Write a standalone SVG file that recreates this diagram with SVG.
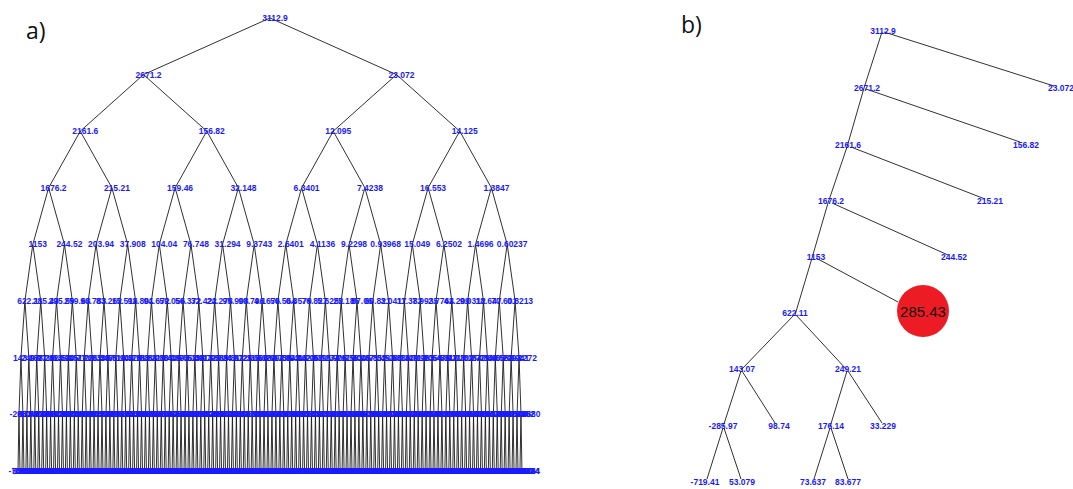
<svg xmlns="http://www.w3.org/2000/svg" width="1073" height="489" viewBox="0 0 1073 489">
<style>
.lab{font-family:"Liberation Sans",Arial,sans-serif;font-weight:bold;font-size:8.5px;fill:#1a1aff;text-anchor:middle}
.con{fill:none;stroke:#1a1a1a;stroke-width:0.9}
.pl{font-family:"Open Sans","Liberation Sans",sans-serif;font-size:23px;fill:#111}
.big{font-family:"Liberation Sans",Arial,sans-serif;font-weight:normal;font-size:15px;fill:#111;text-anchor:middle}
</style>
<rect width="1073" height="489" fill="#fff"/>
<text class="pl" x="26" y="39">a)</text>
<text class="pl" x="681" y="33">b)</text>
<g id="panel-a">
<g id="a-connectors" class="con">
<path d="M143.51 74.6L270 18L396.49 74.6"/>
<path d="M80.26 131.2L143.51 74.6L206.76 131.2M333.24 131.2L396.49 74.6L459.74 131.2"/>
<path d="M48.64 187.8L80.26 131.2L111.88 187.8M175.14 187.8L206.76 131.2L238.38 187.8M301.62 187.8L333.24 131.2L364.86 187.8M428.12 187.8L459.74 131.2L491.36 187.8"/>
<path d="M32.824 244.4l15.812-56.6 15.812 56.6m31.624 0l15.812-56.6 15.812 56.6m31.624 0l15.812-56.6 15.812 56.6m31.624 0l15.812-56.6 15.812 56.6m31.624 0l15.812-56.6 15.812 56.6m31.624 0l15.812-56.6 15.812 56.6m31.624 0l15.812-56.6 15.812 56.6m31.624 0l15.812-56.6 15.812 56.6"/>
<path d="M24.918 301l7.906-56.6 7.906 56.6m15.812 0l7.906-56.6 7.906 56.6m15.812 0l7.906-56.6 7.906 56.6m15.812 0l7.906-56.6 7.906 56.6m15.812 0l7.906-56.6 7.906 56.6m15.812 0l7.906-56.6 7.906 56.6m15.812 0l7.906-56.6 7.906 56.6m15.812 0l7.906-56.6 7.906 56.6m15.812 0
l7.906-56.6 7.906 56.6m15.812 0l7.906-56.6 7.906 56.6m15.812 0l7.906-56.6 7.906 56.6m15.812 0l7.906-56.6 7.906 56.6m15.812 0l7.906-56.6 7.906 56.6m15.812 0l7.906-56.6 7.906 56.6m15.812 0l7.906-56.6 7.906 56.6m15.812 0l7.906-56.6 7.906 56.6"/>
<path d="M20.965 357.6l3.953-56.6 3.953 56.6m7.906 0l3.953-56.6 3.953 56.6m7.906 0l3.953-56.6 3.953 56.6m7.906 0l3.953-56.6 3.953 56.6m7.906 0l3.953-56.6 3.953 56.6m7.906 0l3.953-56.6 3.953 56.6m7.906 0l3.953-56.6 3.953 56.6m7.906 0l3.953-56.6 3.953 56.6m7.906 0
l3.953-56.6 3.953 56.6m7.906 0l3.953-56.6 3.953 56.6m7.906 0l3.953-56.6 3.953 56.6m7.906 0l3.953-56.6 3.953 56.6m7.906 0l3.953-56.6 3.953 56.6m7.906 0l3.953-56.6 3.953 56.6m7.906 0l3.953-56.6 3.953 56.6m7.906 0l3.953-56.6 3.953 56.6m7.906 0
l3.953-56.6 3.953 56.6m7.906 0l3.953-56.6 3.953 56.6m7.906 0l3.953-56.6 3.953 56.6m7.906 0l3.953-56.6 3.953 56.6m7.906 0l3.953-56.6 3.953 56.6m7.906 0l3.953-56.6 3.953 56.6m7.906 0l3.953-56.6 3.953 56.6m7.906 0l3.953-56.6 3.953 56.6m7.906 0
l3.953-56.6 3.953 56.6m7.906 0l3.953-56.6 3.953 56.6m7.906 0l3.953-56.6 3.953 56.6m7.906 0l3.953-56.6 3.953 56.6m7.906 0l3.953-56.6 3.953 56.6m7.906 0l3.953-56.6 3.953 56.6m7.906 0l3.953-56.6 3.953 56.6m7.906 0l3.953-56.6 3.953 56.6"/>
<path d="M18.988 414.2l1.9765-56.6 1.9765 56.6m3.953 0l1.9765-56.6 1.9765 56.6m3.953 0l1.9765-56.6 1.9765 56.6m3.953 0l1.9765-56.6 1.9765 56.6m3.953 0l1.9765-56.6 1.9765 56.6m3.953 0l1.9765-56.6 1.9765 56.6m3.953 0l1.9765-56.6 1.9765 56.6m3.953 0l1.9765-56.6 1.9765 56.6m3.953 0
l1.9765-56.6 1.9765 56.6m3.953 0l1.9765-56.6 1.9765 56.6m3.953 0l1.9765-56.6 1.9765 56.6m3.953 0l1.9765-56.6 1.9765 56.6m3.953 0l1.9765-56.6 1.9765 56.6m3.953 0l1.9765-56.6 1.9765 56.6m3.953 0l1.9765-56.6 1.9765 56.6m3.953 0l1.9765-56.6 1.9765 56.6m3.953 0
l1.9765-56.6 1.9765 56.6m3.953 0l1.9765-56.6 1.9765 56.6m3.953 0l1.9765-56.6 1.9765 56.6m3.953 0l1.9765-56.6 1.9765 56.6m3.953 0l1.9765-56.6 1.9765 56.6m3.953 0l1.9765-56.6 1.9765 56.6m3.953 0l1.9765-56.6 1.9765 56.6m3.953 0l1.9765-56.6 1.9765 56.6m3.953 0
l1.9765-56.6 1.9765 56.6m3.953 0l1.9765-56.6 1.9765 56.6m3.953 0l1.9765-56.6 1.9765 56.6m3.953 0l1.9765-56.6 1.9765 56.6m3.953 0l1.9765-56.6 1.9765 56.6m3.953 0l1.9765-56.6 1.9765 56.6m3.953 0l1.9765-56.6 1.9765 56.6m3.953 0l1.9765-56.6 1.9765 56.6m3.953 0
l1.9765-56.6 1.9765 56.6m3.953 0l1.9765-56.6 1.9765 56.6m3.953 0l1.9765-56.6 1.9765 56.6m3.953 0l1.9765-56.6 1.9765 56.6m3.953 0l1.9765-56.6 1.9765 56.6m3.953 0l1.9765-56.6 1.9765 56.6m3.953 0l1.9765-56.6 1.9765 56.6m3.953 0l1.9765-56.6 1.9765 56.6m3.953 0
l1.9765-56.6 1.9765 56.6m3.953 0l1.9765-56.6 1.9765 56.6m3.953 0l1.9765-56.6 1.9765 56.6m3.953 0l1.9765-56.6 1.9765 56.6m3.953 0l1.9765-56.6 1.9765 56.6m3.953 0l1.9765-56.6 1.9765 56.6m3.953 0l1.9765-56.6 1.9765 56.6m3.953 0l1.9765-56.6 1.9765 56.6m3.953 0
l1.9765-56.6 1.9765 56.6m3.953 0l1.9765-56.6 1.9765 56.6m3.953 0l1.9765-56.6 1.9765 56.6m3.953 0l1.9765-56.6 1.9765 56.6m3.953 0l1.9765-56.6 1.9765 56.6m3.953 0l1.9765-56.6 1.9765 56.6m3.953 0l1.9765-56.6 1.9765 56.6m3.953 0l1.9765-56.6 1.9765 56.6m3.953 0
l1.9765-56.6 1.9765 56.6m3.953 0l1.9765-56.6 1.9765 56.6m3.953 0l1.9765-56.6 1.9765 56.6m3.953 0l1.9765-56.6 1.9765 56.6m3.953 0l1.9765-56.6 1.9765 56.6m3.953 0l1.9765-56.6 1.9765 56.6m3.953 0l1.9765-56.6 1.9765 56.6m3.953 0l1.9765-56.6 1.9765 56.6"/>
<path d="M18 470.8l.988-56.6.988 56.6m1.9765 0l.988-56.6.988 56.6m1.9765 0l.988-56.6.988 56.6m1.9765 0l.988-56.6.988 56.6m1.9765 0l.988-56.6.988 56.6m1.9765 0l.988-56.6.988 56.6m1.9765 0l.988-56.6.988 56.6m1.9765 0l.988-56.6.988 56.6m1.9765 0
l.988-56.6.988 56.6m1.9765 0l.988-56.6.988 56.6m1.9765 0l.988-56.6.988 56.6m1.9765 0l.988-56.6.988 56.6m1.9765 0l.988-56.6.988 56.6m1.9765 0l.988-56.6.988 56.6m1.9765 0l.988-56.6.988 56.6m1.9765 0l.988-56.6.988 56.6m1.9765 0
l.988-56.6.988 56.6m1.9765 0l.988-56.6.988 56.6m1.9765 0l.988-56.6.988 56.6m1.9765 0l.988-56.6.988 56.6m1.9765 0l.988-56.6.988 56.6m1.9765 0l.988-56.6.988 56.6m1.9765 0l.988-56.6.988 56.6m1.9765 0l.988-56.6.988 56.6m1.9765 0
l.988-56.6.988 56.6m1.9765 0l.988-56.6.988 56.6m1.9765 0l.988-56.6.988 56.6m1.9765 0l.988-56.6.988 56.6m1.9765 0l.988-56.6.988 56.6m1.9765 0l.988-56.6.988 56.6m1.9765 0l.988-56.6.988 56.6m1.9765 0l.988-56.6.988 56.6m1.9765 0
l.988-56.6.988 56.6m1.9765 0l.988-56.6.988 56.6m1.9765 0l.988-56.6.988 56.6m1.9765 0l.988-56.6.988 56.6m1.9765 0l.988-56.6.988 56.6m1.9765 0l.988-56.6.988 56.6m1.9765 0l.988-56.6.988 56.6m1.9765 0l.988-56.6.988 56.6m1.9765 0
l.988-56.6.988 56.6m1.9765 0l.988-56.6.988 56.6m1.9765 0l.988-56.6.988 56.6m1.9765 0l.988-56.6.988 56.6m1.9765 0l.988-56.6.988 56.6m1.9765 0l.988-56.6.988 56.6m1.9765 0l.988-56.6.988 56.6m1.9765 0l.988-56.6.988 56.6m1.9765 0
l.988-56.6.988 56.6m1.9765 0l.988-56.6.988 56.6m1.9765 0l.988-56.6.988 56.6m1.9765 0l.988-56.6.988 56.6m1.9765 0l.988-56.6.988 56.6m1.9765 0l.988-56.6.988 56.6m1.9765 0l.988-56.6.988 56.6m1.9765 0l.988-56.6.988 56.6m1.9765 0
l.988-56.6.988 56.6m1.9765 0l.988-56.6.988 56.6m1.9765 0l.988-56.6.988 56.6m1.9765 0l.988-56.6.988 56.6m1.9765 0l.988-56.6.988 56.6m1.9765 0l.988-56.6.988 56.6m1.9765 0l.988-56.6.988 56.6m1.9765 0l.988-56.6.988 56.6m1.9765 0
l.988-56.6.988 56.6m1.9765 0l.988-56.6.988 56.6m1.9765 0l.988-56.6.988 56.6m1.9765 0l.988-56.6.988 56.6m1.9765 0l.988-56.6.988 56.6m1.9765 0l.988-56.6.988 56.6m1.9765 0l.988-56.6.988 56.6m1.9765 0l.988-56.6.988 56.6m1.9765 0
l.988-56.6.988 56.6m1.9765 0l.988-56.6.988 56.6m1.9765 0l.988-56.6.988 56.6m1.9765 0l.988-56.6.988 56.6m1.9765 0l.988-56.6.988 56.6m1.9765 0l.988-56.6.988 56.6m1.9765 0l.988-56.6.988 56.6m1.9765 0l.988-56.6.988 56.6m1.9765 0
l.988-56.6.988 56.6m1.9765 0l.988-56.6.988 56.6m1.9765 0l.988-56.6.988 56.6m1.9765 0l.988-56.6.988 56.6m1.9765 0l.988-56.6.988 56.6m1.9765 0l.988-56.6.988 56.6m1.9765 0l.988-56.6.988 56.6m1.9765 0l.988-56.6.988 56.6m1.9765 0
l.988-56.6.988 56.6m1.9765 0l.988-56.6.988 56.6m1.9765 0l.988-56.6.988 56.6m1.9765 0l.988-56.6.988 56.6m1.9765 0l.988-56.6.988 56.6m1.9765 0l.988-56.6.988 56.6m1.9765 0l.988-56.6.988 56.6m1.9765 0l.988-56.6.988 56.6m1.9765 0
l.988-56.6.988 56.6m1.9765 0l.988-56.6.988 56.6m1.9765 0l.988-56.6.988 56.6m1.9765 0l.988-56.6.988 56.6m1.9765 0l.988-56.6.988 56.6m1.9765 0l.988-56.6.988 56.6m1.9765 0l.988-56.6.988 56.6m1.9765 0l.988-56.6.988 56.6m1.9765 0
l.988-56.6.988 56.6m1.9765 0l.988-56.6.988 56.6m1.9765 0l.988-56.6.988 56.6m1.9765 0l.988-56.6.988 56.6m1.9765 0l.988-56.6.988 56.6m1.9765 0l.988-56.6.988 56.6m1.9765 0l.988-56.6.988 56.6m1.9765 0l.988-56.6.988 56.6m1.9765 0
l.988-56.6.988 56.6m1.9765 0l.988-56.6.988 56.6m1.9765 0l.988-56.6.988 56.6m1.9765 0l.988-56.6.988 56.6m1.9765 0l.988-56.6.988 56.6m1.9765 0l.988-56.6.988 56.6m1.9765 0l.988-56.6.988 56.6m1.9765 0l.988-56.6.988 56.6m1.9765 0
l.988-56.6.988 56.6m1.9765 0l.988-56.6.988 56.6m1.9765 0l.988-56.6.988 56.6m1.9765 0l.988-56.6.988 56.6m1.9765 0l.988-56.6.988 56.6m1.9765 0l.988-56.6.988 56.6m1.9765 0l.988-56.6.988 56.6m1.9765 0l.988-56.6.988 56.6"/>
</g>
<g id="a-nodes" class="lab">
<g id="a0_0"><text x="275" y="21">3112.9</text></g>
<g id="a1_0"><text x="148.5" y="77.6">2671.2</text></g>
<g id="a1_1"><text x="401.5" y="77.6">23.072</text></g>
<g id="a2_0"><text x="85.3" y="134.2">2161.6</text></g>
<g id="a2_1"><text x="211.8" y="134.2">156.82</text></g>
<g id="a2_2"><text x="338.2" y="134.2">12.095</text></g>
<g id="a2_3"><text x="464.7" y="134.2">14.125</text></g>
<g id="a3_0"><text x="53.6" y="190.8">1676.2</text></g>
<g id="a3_1"><text x="116.9" y="190.8">215.21</text></g>
<g id="a3_2"><text x="180.1" y="190.8">159.46</text></g>
<g id="a3_3"><text x="243.4" y="190.8">32.148</text></g>
<g id="a3_4"><text x="306.6" y="190.8">6.3401</text></g>
<g id="a3_5"><text x="369.9" y="190.8">7.4238</text></g>
<g id="a3_6"><text x="433.1" y="190.8">16.553</text></g>
<g id="a3_7"><text x="496.4" y="190.8">1.3847</text></g>
<g id="a4_0"><text x="37.8" y="247.4">1153</text></g>
<g id="a4_1"><text x="69.4" y="247.4">244.52</text></g>
<g id="a4_2"><text x="101.1" y="247.4">203.94</text></g>
<g id="a4_3"><text x="132.7" y="247.4">37.908</text></g>
<g id="a4_4"><text x="164.3" y="247.4">104.04</text></g>
<g id="a4_5"><text x="195.9" y="247.4">76.748</text></g>
<g id="a4_6"><text x="227.6" y="247.4">31.294</text></g>
<g id="a4_7"><text x="259.2" y="247.4">9.3743</text></g>
<g id="a4_8"><text x="290.8" y="247.4">2.6401</text></g>
<g id="a4_9"><text x="322.4" y="247.4">4.1136</text></g>
<g id="a4_10"><text x="354.1" y="247.4">9.2298</text></g>
<g id="a4_11"><text x="385.7" y="247.4">0.93968</text></g>
<g id="a4_12"><text x="417.3" y="247.4">15.049</text></g>
<g id="a4_13"><text x="448.9" y="247.4">6.2502</text></g>
<g id="a4_14"><text x="480.6" y="247.4">1.4696</text></g>
<g id="a4_15"><text x="512.2" y="247.4">0.60237</text></g>
<g transform="translate(29.92,304)">
<g id="a5_0"><text>622.11</text></g><g id="a5_1"><text x="15.81">285.43</text></g><g id="a5_2"><text x="31.62">295.59</text></g><g id="a5_3"><text x="47.44">259.63</text></g><g id="a5_4"><text x="63.25">96.783</text></g><g id="a5_5"><text x="79.06">83.262</text></g><g id="a5_6"><text x="94.87">15.516</text></g><g id="a5_7"><text x="110.68">92.801</text></g><g id="a5_8"><text x="126.5">94.672</text></g><g id="a5_9"><text x="142.31">59.056</text></g><g id="a5_10"><text x="158.12">56.372</text></g><g id="a5_11"><text x="173.93">32.422</text></g><g id="a5_12"><text x="189.74">24.278</text></g><g id="a5_13"><text x="205.56">95.908</text></g><g id="a5_14"><text x="221.37">90.796</text></g><g id="a5_15"><text x="237.18">4.1676</text></g>
</g>
<g transform="translate(282.91,304)">
<g id="a5_16"><text>50.564</text></g><g id="a5_17"><text x="15.81">0.3579</text></g><g id="a5_18"><text x="31.62">76.827</text></g><g id="a5_19"><text x="47.44">5.6252</text></g><g id="a5_20"><text x="63.25">25.185</text></g><g id="a5_21"><text x="79.06">87.06</text></g><g id="a5_22"><text x="94.87">60.821</text></g><g id="a5_23"><text x="110.68">3.0417</text></g><g id="a5_24"><text x="126.5">11.382</text></g><g id="a5_25"><text x="142.31">7.9935</text></g><g id="a5_26"><text x="158.12">2.7764</text></g><g id="a5_27"><text x="173.93">41.209</text></g><g id="a5_28"><text x="189.74">9.0312</text></g><g id="a5_29"><text x="205.56">18.647</text></g><g id="a5_30"><text x="221.37">70.601</text></g><g id="a5_31"><text x="237.18">0.8213</text></g>
</g>
<g transform="translate(25.97,360.6)">
<g id="a6_0"><text>143.07</text></g><g id="a6_1"><text x="7.91">249.21</text></g><g id="a6_2"><text x="15.81">188.36</text></g><g id="a6_3"><text x="23.72">97.114</text></g><g id="a6_4"><text x="31.62">202.58</text></g><g id="a6_5"><text x="39.53">63.945</text></g><g id="a6_6"><text x="47.44">120.77</text></g><g id="a6_7"><text x="55.34">151.03</text></g><g id="a6_8"><text x="63.25">71.262</text></g><g id="a6_9"><text x="71.15">25.338</text></g><g id="a6_10"><text x="79.06">8.4471</text></g><g id="a6_11"><text x="86.97">39.516</text></g><g id="a6_12"><text x="94.87">66.904</text></g><g id="a6_13"><text x="102.78">12.375</text></g><g id="a6_14"><text x="110.68">45.182</text></g><g id="a6_15"><text x="118.59">101.66</text></g>
</g>
<g transform="translate(152.46,360.6)">
<g id="a6_16"><text>58.219</text></g><g id="a6_17"><text x="7.91">33.807</text></g><g id="a6_18"><text x="15.81">27.445</text></g><g id="a6_19"><text x="23.72">84.093</text></g><g id="a6_20"><text x="31.62">19.652</text></g><g id="a6_21"><text x="39.53">77.138</text></g><g id="a6_22"><text x="47.44">6.0913</text></g><g id="a6_23"><text x="55.34">48.725</text></g><g id="a6_24"><text x="63.25">13.569</text></g><g id="a6_25"><text x="71.15">92.247</text></g><g id="a6_26"><text x="79.06">35.811</text></g><g id="a6_27"><text x="86.97">4.9726</text></g><g id="a6_28"><text x="94.87">62.318</text></g><g id="a6_29"><text x="102.78">21.504</text></g><g id="a6_30"><text x="110.68">3.6184</text></g><g id="a6_31"><text x="118.59">55.092</text></g>
</g>
<g transform="translate(278.96,360.6)">
<g id="a6_32"><text>29.736</text></g><g id="a6_33"><text x="7.91">17.843</text></g><g id="a6_34"><text x="15.81">80.415</text></g><g id="a6_35"><text x="23.72">9.1628</text></g><g id="a6_36"><text x="31.62">44.057</text></g><g id="a6_37"><text x="39.53">2.8391</text></g><g id="a6_38"><text x="47.44">68.274</text></g><g id="a6_39"><text x="55.34">15.906</text></g><g id="a6_40"><text x="63.25">37.119</text></g><g id="a6_41"><text x="71.15">26.583</text></g><g id="a6_42"><text x="79.06">7.3045</text></g><g id="a6_43"><text x="86.97">53.671</text></g><g id="a6_44"><text x="94.87">10.852</text></g><g id="a6_45"><text x="102.78">71.493</text></g><g id="a6_46"><text x="110.68">31.207</text></g><g id="a6_47"><text x="118.59">5.5386</text></g>
</g>
<g transform="translate(405.45,360.6)">
<g id="a6_48"><text>86.329</text></g><g id="a6_49"><text x="7.91">14.718</text></g><g id="a6_50"><text x="15.81">40.963</text></g><g id="a6_51"><text x="23.72">1.9054</text></g><g id="a6_52"><text x="31.62">23.476</text></g><g id="a6_53"><text x="39.53">64.815</text></g><g id="a6_54"><text x="47.44">8.9217</text></g><g id="a6_55"><text x="55.34">47.302</text></g><g id="a6_56"><text x="63.25">18.134</text></g><g id="a6_57"><text x="71.15">3.2779</text></g><g id="a6_58"><text x="79.06">57.846</text></g><g id="a6_59"><text x="86.97">11.605</text></g><g id="a6_60"><text x="94.87">34.558</text></g><g id="a6_61"><text x="102.78">6.7093</text></g><g id="a6_62"><text x="110.68">22.941</text></g><g id="a6_63"><text x="118.59">1.2272</text></g>
</g>
<g transform="translate(23.99,417.2)">
<g id="a7_0"><text>-285.97</text></g><g id="a7_1"><text x="3.95">98.74</text></g><g id="a7_2"><text x="7.91">176.14</text></g><g id="a7_3"><text x="11.86">33.229</text></g><g id="a7_4"><text x="15.81">142.85</text></g><g id="a7_5"><text x="19.77">-40.311</text></g><g id="a7_6"><text x="23.72">63.507</text></g><g id="a7_7"><text x="27.67">27.918</text></g><g id="a7_8"><text x="31.62">115.36</text></g><g id="a7_9"><text x="35.58">-87.042</text></g><g id="a7_10"><text x="39.53">54.783</text></g><g id="a7_11"><text x="43.48">9.6651</text></g><g id="a7_12"><text x="47.44">183.29</text></g><g id="a7_13"><text x="51.39">21.406</text></g><g id="a7_14"><text x="55.34">-12.574</text></g><g id="a7_15"><text x="59.3">70.138</text></g>
</g>
<g transform="translate(87.24,417.2)">
<g id="a7_16"><text>36.952</text></g><g id="a7_17"><text x="3.95">88.617</text></g><g id="a7_18"><text x="7.91">-61.283</text></g><g id="a7_19"><text x="11.86">14.309</text></g><g id="a7_20"><text x="15.81">102.46</text></g><g id="a7_21"><text x="19.77">5.8827</text></g><g id="a7_22"><text x="23.72">47.715</text></g><g id="a7_23"><text x="27.67">-23.948</text></g><g id="a7_24"><text x="31.62">131.07</text></g><g id="a7_25"><text x="35.58">19.824</text></g><g id="a7_26"><text x="39.53">76.593</text></g><g id="a7_27"><text x="43.48">-7.4162</text></g><g id="a7_28"><text x="47.44">58.301</text></g><g id="a7_29"><text x="51.39">92.157</text></g><g id="a7_30"><text x="55.34">3.4495</text></g><g id="a7_31"><text x="59.3">44.866</text></g>
</g>
<g transform="translate(150.48,417.2)">
<g id="a7_32"><text>-98.205</text></g><g id="a7_33"><text x="3.95">25.731</text></g><g id="a7_34"><text x="7.91">67.419</text></g><g id="a7_35"><text x="11.86">11.078</text></g><g id="a7_36"><text x="15.81">39.552</text></g><g id="a7_37"><text x="19.77">-31.664</text></g><g id="a7_38"><text x="23.72">84.236</text></g><g id="a7_39"><text x="27.67">16.893</text></g><g id="a7_40"><text x="31.62">52.748</text></g><g id="a7_41"><text x="35.58">7.1305</text></g><g id="a7_42"><text x="39.53">-45.829</text></g><g id="a7_43"><text x="43.48">29.467</text></g><g id="a7_44"><text x="47.44">110.93</text></g><g id="a7_45"><text x="51.39">2.6584</text></g><g id="a7_46"><text x="55.34">61.372</text></g><g id="a7_47"><text x="59.3">-18.251</text></g>
</g>
<g transform="translate(213.73,417.2)">
<g id="a7_48"><text>73.804</text></g><g id="a7_49"><text x="3.95">13.527</text></g><g id="a7_50"><text x="7.91">28.169</text></g><g id="a7_51"><text x="11.86">-55.736</text></g><g id="a7_52"><text x="15.81">95.441</text></g><g id="a7_53"><text x="19.77">6.9038</text></g><g id="a7_54"><text x="23.72">41.285</text></g><g id="a7_55"><text x="27.67">20.617</text></g><g id="a7_56"><text x="31.62">-9.3874</text></g><g id="a7_57"><text x="35.58">66.052</text></g><g id="a7_58"><text x="39.53">34.719</text></g><g id="a7_59"><text x="43.48">1.8826</text></g><g id="a7_60"><text x="47.44">57.493</text></g><g id="a7_61"><text x="51.39">-26.307</text></g><g id="a7_62"><text x="55.34">80.164</text></g><g id="a7_63"><text x="59.3">12.945</text></g>
</g>
<g transform="translate(276.98,417.2)">
<g id="a7_64"><text>24.381</text></g><g id="a7_65"><text x="3.95">-70.529</text></g><g id="a7_66"><text x="7.91">49.806</text></g><g id="a7_67"><text x="11.86">8.2147</text></g><g id="a7_68"><text x="15.81">37.663</text></g><g id="a7_69"><text x="19.77">17.092</text></g><g id="a7_70"><text x="23.72">-3.7518</text></g><g id="a7_71"><text x="27.67">90.327</text></g><g id="a7_72"><text x="31.62">43.274</text></g><g id="a7_73"><text x="35.58">10.681</text></g><g id="a7_74"><text x="39.53">-37.946</text></g><g id="a7_75"><text x="43.48">62.815</text></g><g id="a7_76"><text x="47.44">4.5372</text></g><g id="a7_77"><text x="51.39">31.058</text></g><g id="a7_78"><text x="55.34">75.921</text></g><g id="a7_79"><text x="59.3">-14.683</text></g>
</g>
<g transform="translate(340.23,417.2)">
<g id="a7_80"><text>53.416</text></g><g id="a7_81"><text x="3.95">22.739</text></g><g id="a7_82"><text x="7.91">-81.352</text></g><g id="a7_83"><text x="11.86">15.264</text></g><g id="a7_84"><text x="15.81">68.907</text></g><g id="a7_85"><text x="19.77">2.1463</text></g><g id="a7_86"><text x="23.72">46.538</text></g><g id="a7_87"><text x="27.67">-20.875</text></g><g id="a7_88"><text x="31.62">87.193</text></g><g id="a7_89"><text x="35.58">9.8042</text></g><g id="a7_90"><text x="39.53">35.627</text></g><g id="a7_91"><text x="43.48">26.351</text></g><g id="a7_92"><text x="47.44">-6.0297</text></g><g id="a7_93"><text x="51.39">59.784</text></g><g id="a7_94"><text x="55.34">18.436</text></g><g id="a7_95"><text x="59.3">41.902</text></g>
</g>
<g transform="translate(403.48,417.2)">
<g id="a7_96"><text>-49.617</text></g><g id="a7_97"><text x="3.95">71.045</text></g><g id="a7_98"><text x="7.91">5.3186</text></g><g id="a7_99"><text x="11.86">30.592</text></g><g id="a7_100"><text x="15.81">97.268</text></g><g id="a7_101"><text x="19.77">-15.934</text></g><g id="a7_102"><text x="23.72">12.803</text></g><g id="a7_103"><text x="27.67">64.179</text></g><g id="a7_104"><text x="31.62">23.955</text></g><g id="a7_105"><text x="35.58">-2.4671</text></g><g id="a7_106"><text x="39.53">50.317</text></g><g id="a7_107"><text x="43.48">38.846</text></g><g id="a7_108"><text x="47.44">7.9503</text></g><g id="a7_109"><text x="51.39">-33.208</text></g><g id="a7_110"><text x="55.34">82.571</text></g><g id="a7_111"><text x="59.3">16.124</text></g>
</g>
<g transform="translate(466.72,417.2)">
<g id="a7_112"><text>45.739</text></g><g id="a7_113"><text x="3.95">1.0635</text></g><g id="a7_114"><text x="7.91">-58.492</text></g><g id="a7_115"><text x="11.86">27.386</text></g><g id="a7_116"><text x="15.81">69.813</text></g><g id="a7_117"><text x="19.77">11.547</text></g><g id="a7_118"><text x="23.72">-8.6219</text></g><g id="a7_119"><text x="27.67">39.078</text></g><g id="a7_120"><text x="31.62">55.264</text></g><g id="a7_121"><text x="35.58">4.3817</text></g><g id="a7_122"><text x="39.53">78.905</text></g><g id="a7_123"><text x="43.48">-24.163</text></g><g id="a7_124"><text x="47.44">19.548</text></g><g id="a7_125"><text x="51.39">32.796</text></g><g id="a7_126"><text x="55.34">6.4452</text></g><g id="a7_127"><text x="59.3">-2.0880</text></g>
</g>
<g transform="translate(23,473.8)">
<g id="a8_0"><text>-719.41</text></g><g id="a8_1"><text x="1.98">53.079</text></g><g id="a8_2"><text x="3.95">130.62</text></g><g id="a8_3"><text x="5.93">66.815</text></g><g id="a8_4"><text x="7.91">73.637</text></g><g id="a8_5"><text x="9.88">83.677</text></g><g id="a8_6"><text x="11.86">21.948</text></g><g id="a8_7"><text x="13.84">44.503</text></g><g id="a8_8"><text x="15.81">97.216</text></g><g id="a8_9"><text x="17.79">188.07</text></g><g id="a8_10"><text x="19.77">-62.734</text></g><g id="a8_11"><text x="21.74">18.391</text></g><g id="a8_12"><text x="23.72">35.872</text></g><g id="a8_13"><text x="25.69">73.108</text></g><g id="a8_14"><text x="27.67">104.55</text></g><g id="a8_15"><text x="29.65">-9.2614</text></g>
</g>
<g transform="translate(54.62,473.8)">
<g id="a8_16"><text>48.327</text></g><g id="a8_17"><text x="1.98">61.904</text></g><g id="a8_18"><text x="3.95">7.5182</text></g><g id="a8_19"><text x="5.93">22.663</text></g><g id="a8_20"><text x="7.91">150.81</text></g><g id="a8_21"><text x="9.88">39.427</text></g><g id="a8_22"><text x="11.86">-28.056</text></g><g id="a8_23"><text x="13.84">85.193</text></g><g id="a8_24"><text x="15.81">13.744</text></g><g id="a8_25"><text x="17.79">56.281</text></g><g id="a8_26"><text x="19.77">92.638</text></g><g id="a8_27"><text x="21.74">4.0975</text></g><g id="a8_28"><text x="23.72">27.519</text></g><g id="a8_29"><text x="25.69">-41.872</text></g><g id="a8_30"><text x="27.67">68.345</text></g><g id="a8_31"><text x="29.65">31.206</text></g>
</g>
<g transform="translate(86.25,473.8)">
<g id="a8_32"><text>116.43</text></g><g id="a8_33"><text x="1.98">9.8871</text></g><g id="a8_34"><text x="3.95">-75.214</text></g><g id="a8_35"><text x="5.93">52.609</text></g><g id="a8_36"><text x="7.91">24.137</text></g><g id="a8_37"><text x="9.88">80.752</text></g><g id="a8_38"><text x="11.86">15.486</text></g><g id="a8_39"><text x="13.84">43.918</text></g><g id="a8_40"><text x="15.81">-6.3729</text></g><g id="a8_41"><text x="17.79">99.064</text></g><g id="a8_42"><text x="19.77">36.581</text></g><g id="a8_43"><text x="21.74">12.295</text></g><g id="a8_44"><text x="23.72">71.847</text></g><g id="a8_45"><text x="25.69">28.413</text></g><g id="a8_46"><text x="27.67">-53.126</text></g><g id="a8_47"><text x="29.65">60.739</text></g>
</g>
<g transform="translate(117.87,473.8)">
<g id="a8_48"><text>19.752</text></g><g id="a8_49"><text x="1.98">87.314</text></g><g id="a8_50"><text x="3.95">3.6608</text></g><g id="a8_51"><text x="5.93">45.829</text></g><g id="a8_52"><text x="7.91">-110.27</text></g><g id="a8_53"><text x="9.88">32.471</text></g><g id="a8_54"><text x="11.86">64.093</text></g><g id="a8_55"><text x="13.84">11.836</text></g><g id="a8_56"><text x="15.81">94.527</text></g><g id="a8_57"><text x="17.79">25.168</text></g><g id="a8_58"><text x="19.77">-17.405</text></g><g id="a8_59"><text x="21.74">57.952</text></g><g id="a8_60"><text x="23.72">40.316</text></g><g id="a8_61"><text x="25.69">6.7284</text></g><g id="a8_62"><text x="27.67">78.641</text></g><g id="a8_63"><text x="29.65">21.093</text></g>
</g>
<g transform="translate(149.5,473.8)">
<g id="a8_64"><text>-36.487</text></g><g id="a8_65"><text x="1.98">102.75</text></g><g id="a8_66"><text x="3.95">29.834</text></g><g id="a8_67"><text x="5.93">8.4516</text></g><g id="a8_68"><text x="7.91">66.172</text></g><g id="a8_69"><text x="9.88">47.925</text></g><g id="a8_70"><text x="11.86">-4.8853</text></g><g id="a8_71"><text x="13.84">83.406</text></g><g id="a8_72"><text x="15.81">14.637</text></g><g id="a8_73"><text x="17.79">55.218</text></g><g id="a8_74"><text x="19.77">37.749</text></g><g id="a8_75"><text x="21.74">-92.361</text></g><g id="a8_76"><text x="23.72">23.582</text></g><g id="a8_77"><text x="25.69">70.915</text></g><g id="a8_78"><text x="27.67">10.274</text></g><g id="a8_79"><text x="29.65">49.803</text></g>
</g>
<g transform="translate(181.12,473.8)">
<g id="a8_80"><text>125.38</text></g><g id="a8_81"><text x="1.98">-21.746</text></g><g id="a8_82"><text x="3.95">58.197</text></g><g id="a8_83"><text x="5.93">33.064</text></g><g id="a8_84"><text x="7.91">5.9327</text></g><g id="a8_85"><text x="9.88">76.485</text></g><g id="a8_86"><text x="11.86">42.751</text></g><g id="a8_87"><text x="13.84">-67.128</text></g><g id="a8_88"><text x="15.81">18.926</text></g><g id="a8_89"><text x="17.79">89.573</text></g><g id="a8_90"><text x="19.77">26.308</text></g><g id="a8_91"><text x="21.74">61.442</text></g><g id="a8_92"><text x="23.72">-11.957</text></g><g id="a8_93"><text x="25.69">39.186</text></g><g id="a8_94"><text x="27.67">97.834</text></g><g id="a8_95"><text x="29.65">2.3149</text></g>
</g>
<g transform="translate(212.74,473.8)">
<g id="a8_96"><text>51.677</text></g><g id="a8_97"><text x="1.98">30.592</text></g><g id="a8_98"><text x="3.95">-45.213</text></g><g id="a8_99"><text x="5.93">84.029</text></g><g id="a8_100"><text x="7.91">16.748</text></g><g id="a8_101"><text x="9.88">63.385</text></g><g id="a8_102"><text x="11.86">8.1072</text></g><g id="a8_103"><text x="13.84">-29.664</text></g><g id="a8_104"><text x="15.81">74.518</text></g><g id="a8_105"><text x="17.79">35.903</text></g><g id="a8_106"><text x="19.77">20.471</text></g><g id="a8_107"><text x="21.74">107.26</text></g><g id="a8_108"><text x="23.72">-3.4218</text></g><g id="a8_109"><text x="25.69">46.839</text></g><g id="a8_110"><text x="27.67">59.127</text></g><g id="a8_111"><text x="29.65">13.982</text></g>
</g>
<g transform="translate(244.37,473.8)">
<g id="a8_112"><text>-81.596</text></g><g id="a8_113"><text x="1.98">27.043</text></g><g id="a8_114"><text x="3.95">68.774</text></g><g id="a8_115"><text x="5.93">4.6291</text></g><g id="a8_116"><text x="7.91">91.308</text></g><g id="a8_117"><text x="9.88">38.516</text></g><g id="a8_118"><text x="11.86">-14.375</text></g><g id="a8_119"><text x="13.84">55.862</text></g><g id="a8_120"><text x="15.81">22.194</text></g><g id="a8_121"><text x="17.79">79.627</text></g><g id="a8_122"><text x="19.77">10.953</text></g><g id="a8_123"><text x="21.74">-58.049</text></g><g id="a8_124"><text x="23.72">43.281</text></g><g id="a8_125"><text x="25.69">65.714</text></g><g id="a8_126"><text x="27.67">7.8465</text></g><g id="a8_127"><text x="29.65">31.437</text></g>
</g>
<g transform="translate(275.99,473.8)">
<g id="a8_128"><text>99.158</text></g><g id="a8_129"><text x="1.98">-24.917</text></g><g id="a8_130"><text x="3.95">17.382</text></g><g id="a8_131"><text x="5.93">52.046</text></g><g id="a8_132"><text x="7.91">71.593</text></g><g id="a8_133"><text x="9.88">1.5837</text></g><g id="a8_134"><text x="11.86">-38.762</text></g><g id="a8_135"><text x="13.84">86.214</text></g><g id="a8_136"><text x="15.81">29.409</text></g><g id="a8_137"><text x="17.79">62.851</text></g><g id="a8_138"><text x="19.77">12.627</text></g><g id="a8_139"><text x="21.74">45.093</text></g><g id="a8_140"><text x="23.72">-7.9146</text></g><g id="a8_141"><text x="25.69">80.339</text></g><g id="a8_142"><text x="27.67">34.786</text></g><g id="a8_143"><text x="29.65">19.518</text></g>
</g>
<g transform="translate(307.62,473.8)">
<g id="a8_144"><text>57.204</text></g><g id="a8_145"><text x="1.98">-103.49</text></g><g id="a8_146"><text x="3.95">25.961</text></g><g id="a8_147"><text x="5.93">68.417</text></g><g id="a8_148"><text x="7.91">9.3582</text></g><g id="a8_149"><text x="9.88">41.725</text></g><g id="a8_150"><text x="11.86">76.068</text></g><g id="a8_151"><text x="13.84">-16.584</text></g><g id="a8_152"><text x="15.81">53.913</text></g><g id="a8_153"><text x="17.79">14.276</text></g><g id="a8_154"><text x="19.77">88.645</text></g><g id="a8_155"><text x="21.74">32.107</text></g><g id="a8_156"><text x="23.72">-49.331</text></g><g id="a8_157"><text x="25.69">20.849</text></g><g id="a8_158"><text x="27.67">63.592</text></g><g id="a8_159"><text x="29.65">5.1743</text></g>
</g>
<g transform="translate(339.24,473.8)">
<g id="a8_160"><text>37.816</text></g><g id="a8_161"><text x="1.98">94.461</text></g><g id="a8_162"><text x="3.95">-27.305</text></g><g id="a8_163"><text x="5.93">11.672</text></g><g id="a8_164"><text x="7.91">60.938</text></g><g id="a8_165"><text x="9.88">44.157</text></g><g id="a8_166"><text x="11.86">2.9061</text></g><g id="a8_167"><text x="13.84">-70.284</text></g><g id="a8_168"><text x="15.81">26.753</text></g><g id="a8_169"><text x="17.79">82.519</text></g><g id="a8_170"><text x="19.77">39.374</text></g><g id="a8_171"><text x="21.74">16.025</text></g><g id="a8_172"><text x="23.72">72.863</text></g><g id="a8_173"><text x="25.69">-5.6132</text></g><g id="a8_174"><text x="27.67">48.492</text></g><g id="a8_175"><text x="29.65">90.736</text></g>
</g>
<g transform="translate(370.86,473.8)">
<g id="a8_176"><text>13.548</text></g><g id="a8_177"><text x="1.98">-42.619</text></g><g id="a8_178"><text x="3.95">67.283</text></g><g id="a8_179"><text x="5.93">30.815</text></g><g id="a8_180"><text x="7.91">6.2407</text></g><g id="a8_181"><text x="9.88">58.471</text></g><g id="a8_182"><text x="11.86">-19.092</text></g><g id="a8_183"><text x="13.84">95.648</text></g><g id="a8_184"><text x="15.81">35.209</text></g><g id="a8_185"><text x="17.79">22.936</text></g><g id="a8_186"><text x="19.77">77.154</text></g><g id="a8_187"><text x="21.74">-61.847</text></g><g id="a8_188"><text x="23.72">8.7715</text></g><g id="a8_189"><text x="25.69">50.362</text></g><g id="a8_190"><text x="27.67">28.593</text></g><g id="a8_191"><text x="29.65">84.108</text></g>
</g>
<g transform="translate(402.49,473.8)">
<g id="a8_192"><text>-33.726</text></g><g id="a8_193"><text x="1.98">18.604</text></g><g id="a8_194"><text x="3.95">62.395</text></g><g id="a8_195"><text x="5.93">45.817</text></g><g id="a8_196"><text x="7.91">-1.8294</text></g><g id="a8_197"><text x="9.88">73.062</text></g><g id="a8_198"><text x="11.86">27.748</text></g><g id="a8_199"><text x="13.84">10.389</text></g><g id="a8_200"><text x="15.81">-86.153</text></g><g id="a8_201"><text x="17.79">54.627</text></g><g id="a8_202"><text x="19.77">40.471</text></g><g id="a8_203"><text x="21.74">15.893</text></g><g id="a8_204"><text x="23.72">92.216</text></g><g id="a8_205"><text x="25.69">-12.348</text></g><g id="a8_206"><text x="27.67">66.905</text></g><g id="a8_207"><text x="29.65">3.4176</text></g>
</g>
<g transform="translate(434.11,473.8)">
<g id="a8_208"><text>47.135</text></g><g id="a8_209"><text x="1.98">24.582</text></g><g id="a8_210"><text x="3.95">-54.961</text></g><g id="a8_211"><text x="5.93">79.248</text></g><g id="a8_212"><text x="7.91">36.627</text></g><g id="a8_213"><text x="9.88">7.0953</text></g><g id="a8_214"><text x="11.86">59.814</text></g><g id="a8_215"><text x="13.84">-22.473</text></g><g id="a8_216"><text x="15.81">14.709</text></g><g id="a8_217"><text x="17.79">87.352</text></g><g id="a8_218"><text x="19.77">31.076</text></g><g id="a8_219"><text x="21.74">-8.5421</text></g><g id="a8_220"><text x="23.72">69.473</text></g><g id="a8_221"><text x="25.69">43.805</text></g><g id="a8_222"><text x="27.67">19.261</text></g><g id="a8_223"><text x="29.65">-96.738</text></g>
</g>
<g transform="translate(465.74,473.8)">
<g id="a8_224"><text>56.392</text></g><g id="a8_225"><text x="1.98">11.247</text></g><g id="a8_226"><text x="3.95">38.864</text></g><g id="a8_227"><text x="5.93">-31.508</text></g><g id="a8_228"><text x="7.91">83.721</text></g><g id="a8_229"><text x="9.88">25.405</text></g><g id="a8_230"><text x="11.86">4.1836</text></g><g id="a8_231"><text x="13.84">64.957</text></g><g id="a8_232"><text x="15.81">-47.286</text></g><g id="a8_233"><text x="17.79">17.534</text></g><g id="a8_234"><text x="19.77">75.613</text></g><g id="a8_235"><text x="21.74">50.129</text></g><g id="a8_236"><text x="23.72">-2.7169</text></g><g id="a8_237"><text x="25.69">33.348</text></g><g id="a8_238"><text x="27.67">98.472</text></g><g id="a8_239"><text x="29.65">21.815</text></g>
</g>
<g transform="translate(497.36,473.8)">
<g id="a8_240"><text>-64.903</text></g><g id="a8_241"><text x="1.98">42.568</text></g><g id="a8_242"><text x="3.95">9.6734</text></g><g id="a8_243"><text x="5.93">71.206</text></g><g id="a8_244"><text x="7.91">29.917</text></g><g id="a8_245"><text x="9.88">-18.735</text></g><g id="a8_246"><text x="11.86">53.641</text></g><g id="a8_247"><text x="13.84">86.093</text></g><g id="a8_248"><text x="15.81">15.328</text></g><g id="a8_249"><text x="17.79">-39.152</text></g><g id="a8_250"><text x="19.77">61.784</text></g><g id="a8_251"><text x="21.74">6.0451</text></g><g id="a8_252"><text x="23.72">46.527</text></g><g id="a8_253"><text x="25.69">26.876</text></g><g id="a8_254"><text x="27.67">-75.394</text></g><g id="a8_255"><text x="29.65">1.8534</text></g>
</g>
</g>
</g>
<g id="panel-b">
<g id="b-connectors" class="con">
<path d="M882 32L864 88L847 147L828 203L812 258L795 315"/>
<path d="M884 32L1054 86"/>
<path d="M866 89L1020 142"/>
<path d="M851 147L985 199"/>
<path d="M832 203L948 255"/>
<path d="M816 258L898 302"/>
<path d="M794 315L741 370M796 315L847 370"/>
<path d="M741 371L723 427M742 371L775 423"/>
<path d="M847 371L830 427M848 371L882 423"/>
<path d="M723 428L707 479M724 428L741 479"/>
<path d="M830 428L814 479M831 428L848 479"/>
</g>
<g id="b-nodes" class="lab">
<g id="b0"><text x="883" y="34">3112.9</text></g>
<g id="b1"><text x="1061" y="91">23.072</text></g>
<g id="b2"><text x="867" y="91">2671.2</text></g>
<g id="b3"><text x="1026" y="148">156.82</text></g>
<g id="b4"><text x="848" y="148">2161.6</text></g>
<g id="b5"><text x="990" y="204">215.21</text></g>
<g id="b6"><text x="831" y="204">1676.2</text></g>
<g id="b7"><text x="954" y="260">244.52</text></g>
<g id="b8"><text x="816" y="260">1153</text></g>
<g id="b9"><circle cx="923" cy="311" r="26" fill="#ed1c24"/><text class="big" x="923" y="316.5">285.43</text></g>
<g id="b10"><text x="795" y="316">622.11</text></g>
<g id="b11"><text x="742" y="372">143.07</text></g>
<g id="b12"><text x="848" y="372">249.21</text></g>
<g id="b13"><text x="723" y="429">-285.97</text></g>
<g id="b14"><text x="779" y="429">98.74</text></g>
<g id="b15"><text x="831" y="429">176.14</text></g>
<g id="b16"><text x="883" y="429">33.229</text></g>
<g id="b17"><text x="705" y="485">-719.41</text></g>
<g id="b18"><text x="742" y="485">53.079</text></g>
<g id="b19"><text x="813" y="485">73.637</text></g>
<g id="b20"><text x="848" y="485">83.677</text></g>
</g>
</g>
</svg>
